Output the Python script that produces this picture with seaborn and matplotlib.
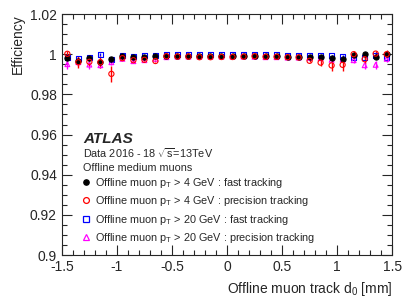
import numpy as np
import pandas as pd
import matplotlib
matplotlib.use("Agg")
import matplotlib.pyplot as plt
from matplotlib.lines import Line2D
from matplotlib.ticker import MultipleLocator, FormatStrFormatter
import seaborn as sns

# bin centres of d0 [mm]
d0 = [-1.45, -1.35, -1.25, -1.15, -1.05, -0.95, -0.85, -0.75, -0.65, -0.55,
      -0.45, -0.35, -0.25, -0.15, -0.05, 0.05, 0.15, 0.25, 0.35, 0.45,
      0.55, 0.65, 0.75, 0.85, 0.95, 1.05, 1.15, 1.25, 1.35, 1.45]

# pT > 4 GeV, fast tracking
eff_fast4 = [0.9980, 0.9968, 0.9980, 0.9963, 0.9977, 0.9990, 0.9985, 0.9988, 0.9990, 0.9993,
             0.9993, 0.9993, 0.9993, 0.9993, 0.9993, 0.9993, 0.9993, 0.9992, 0.9991, 0.9991,
             0.9987, 0.9987, 0.9986, 0.9985, 0.9980, 0.9977, 0.9997, 0.9999, 0.9985, 1.0000]
err_fast4 = [0.0010, 0.0010, 0.0008, 0.0008, 0.0007, 0.0005, 0.0004, 0.0003, 0.0003, 0.0002,
             0.0002, 0.0002, 0.0002, 0.0002, 0.0002, 0.0002, 0.0002, 0.0002, 0.0002, 0.0002,
             0.0003, 0.0003, 0.0003, 0.0004, 0.0005, 0.0007, 0.0008, 0.0008, 0.0010, 0.0010]

# pT > 4 GeV, precision tracking
eff_prec4 = [1.0002, 0.9960, 0.9962, 0.9960, 0.9902, 0.9980, 0.9970, 0.9972, 0.9966, 0.9990,
             0.9988, 0.9988, 0.9985, 0.9985, 0.9986, 0.9986, 0.9988, 0.9990, 0.9987, 0.9987,
             0.9985, 0.9984, 0.9967, 0.9958, 0.9944, 0.9947, 1.0000, 0.9975, 1.0003, 1.0000]
err_prec4 = [0.0015, 0.0030, 0.0020, 0.0030, 0.0040, 0.0008, 0.0006, 0.0005, 0.0004, 0.0003,
             0.0003, 0.0003, 0.0003, 0.0003, 0.0003, 0.0003, 0.0003, 0.0003, 0.0003, 0.0003,
             0.0004, 0.0005, 0.0008, 0.0015, 0.0030, 0.0030, 0.0015, 0.0025, 0.0015, 0.0020]

# pT > 20 GeV, fast tracking
eff_fast20 = [0.9985, 0.9977, 0.9985, 0.9997, 0.9975, 0.9993, 0.9990, 0.9992, 0.9995, 0.9998,
              0.9997, 0.9998, 0.9999, 0.9999, 0.9999, 0.9999, 0.9999, 0.9998, 0.9997, 0.9997,
              0.9995, 0.9995, 0.9994, 0.9993, 0.9993, 0.9990, 0.9985, 0.9985, 0.9993, 0.9985]
err_fast20 = [0.0010, 0.0010, 0.0008, 0.0008, 0.0007, 0.0004, 0.0003, 0.0003, 0.0002, 0.0002,
              0.0002, 0.0002, 0.0002, 0.0002, 0.0002, 0.0002, 0.0002, 0.0002, 0.0002, 0.0002,
              0.0002, 0.0003, 0.0003, 0.0004, 0.0005, 0.0007, 0.0008, 0.0008, 0.0010, 0.0010]

# pT > 20 GeV, precision tracking
eff_prec20 = [0.9950, 0.9960, 0.9948, 0.9945, 0.9960, 0.9977, 0.9965, 0.9970, 0.9977, 0.9985,
              0.9988, 0.9988, 0.9988, 0.9988, 0.9988, 0.9988, 0.9988, 0.9987, 0.9985, 0.9985,
              0.9983, 0.9983, 0.9982, 0.9980, 0.9972, 0.9973, 0.9970, 0.9945, 0.9947, 0.9977]
err_prec20 = [0.0025, 0.0020, 0.0020, 0.0015, 0.0012, 0.0006, 0.0005, 0.0004, 0.0003, 0.0003,
              0.0002, 0.0002, 0.0002, 0.0002, 0.0002, 0.0002, 0.0002, 0.0002, 0.0003, 0.0003,
              0.0003, 0.0004, 0.0004, 0.0005, 0.0008, 0.0012, 0.0015, 0.0020, 0.0020, 0.0015]

labels = [r"Offline muon p$_{\mathrm{T}}$ > 4 GeV : fast tracking",
          r"Offline muon p$_{\mathrm{T}}$ > 4 GeV : precision tracking",
          r"Offline muon p$_{\mathrm{T}}$ > 20 GeV : fast tracking",
          r"Offline muon p$_{\mathrm{T}}$ > 20 GeV : precision tracking"]

sns.set_style("ticks")
plt.rcParams["font.family"] = ["Liberation Sans", "DejaVu Sans"]
plt.rcParams["mathtext.fontset"] = "custom"
plt.rcParams["mathtext.rm"] = "Liberation Sans"
plt.rcParams["mathtext.it"] = "Liberation Sans:italic"
plt.rcParams["mathtext.bf"] = "Liberation Sans:bold"

fig = plt.figure(figsize=(4.15, 2.98), dpi=100)
ax = fig.add_axes([0.149, 0.144, 0.796, 0.809])

# series: (values, errors, marker, color, filled), drawn back to front
series = [
    (eff_fast20, err_fast20, "s", "#0000ff", False),
    (eff_prec20, err_prec20, "^", "#ff00ff", False),
    (eff_fast4, err_fast4, "o", "black", True),
    (eff_prec4, err_prec4, "o", "#ff0000", False),
]
for vals, errs, mk, col, filled in series:
    df = pd.DataFrame({"d0": d0, "eff": vals})
    ax.errorbar(d0, vals, yerr=errs, fmt="none", ecolor=col, elinewidth=1.0, capsize=0)
    sns.scatterplot(data=df, x="d0", y="eff", marker=mk, s=14 if mk != "^" else 12,
                    facecolor=col if filled else "none", edgecolor=col,
                    linewidth=0.8, ax=ax, zorder=3)

ax.set_xlim(-1.5, 1.5)
ax.set_ylim(0.9, 1.02)
ax.xaxis.set_major_locator(MultipleLocator(0.5))
ax.xaxis.set_minor_locator(MultipleLocator(0.1))
ax.yaxis.set_major_locator(MultipleLocator(0.02))
ax.yaxis.set_minor_locator(MultipleLocator(0.005))
ax.xaxis.set_major_formatter(FormatStrFormatter("%g"))
ax.yaxis.set_major_formatter(FormatStrFormatter("%g"))
ax.tick_params(which="both", direction="in", top=True, right=True, labelsize=10, width=0.8)
ax.tick_params(which="major", length=7)
ax.tick_params(which="minor", length=3.5)
for sp in ax.spines.values():
    sp.set_linewidth(0.8)

ax.set_xlabel(r"Offline muon track d$_0$ [mm]", fontsize=10, loc="right")
ax.set_ylabel("Efficiency", fontsize=10, loc="top")

ax.text(0.064, 0.482, "ATLAS", transform=ax.transAxes, fontsize=11,
        fontweight="bold", fontstyle="italic", va="center")
ax.text(0.064, 0.422, r"Data 2016 - 18 $\sqrt{\mathrm{s}}$=13TeV", transform=ax.transAxes,
        fontsize=7.8, va="center")
ax.text(0.064, 0.36, "Offline medium muons", transform=ax.transAxes, fontsize=7.8, va="center")

handles = [
    Line2D([], [], ls="none", marker="o", color="black", ms=3.8),
    Line2D([], [], ls="none", marker="o", mfc="none", mec="#ff0000", ms=4.2, mew=0.9),
    Line2D([], [], ls="none", marker="s", mfc="none", mec="#0000ff", ms=4.2, mew=0.9),
    Line2D([], [], ls="none", marker="^", mfc="none", mec="#ff00ff", ms=4.2, mew=0.9),
]
ax.legend(handles, labels, loc="upper left", bbox_to_anchor=(0.063, 0.33), frameon=False,
          fontsize=7.8, handlelength=0.6, handletextpad=0.55, labelspacing=0.42,
          borderpad=0, borderaxespad=0)

fig.savefig("out.png", dpi=100)
